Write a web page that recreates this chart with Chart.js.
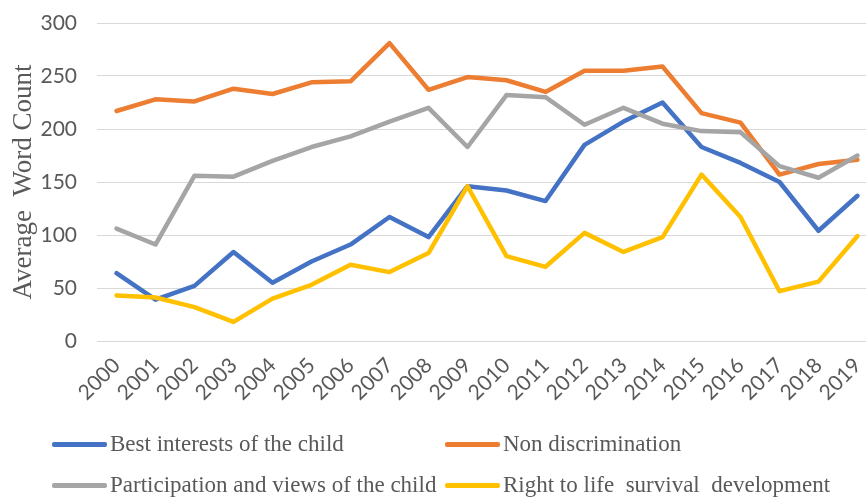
<!DOCTYPE html>
<html>
<head>
<meta charset="utf-8">
<script src="https://cdn.jsdelivr.net/npm/chart.js@4/dist/chart.umd.min.js"></script>
<style>
  html, body { margin: 0; padding: 0; background: #ffffff; overflow: hidden; }
  #wrap { position: relative; width: 880px; height: 497px; }
  #legend { position: absolute; left: 0; top: 0; width: 880px; height: 497px; pointer-events: none; }
  .item { position: absolute; height: 30px; display: flex; align-items: center;
          font-family: "Liberation Serif", "Times New Roman", serif; font-size: 23px;
          color: #595959; white-space: pre; }
  .swatch { width: 55px; height: 5px; border-radius: 2px; margin-right: 3px; }
</style>
</head>
<body>
<div id="wrap">
  <canvas id="chart" width="880" height="497"></canvas>
  <div id="legend"></div>
</div>
<script>
// Years on the category axis
const years = ['2000','2001','2002','2003','2004','2005','2006','2007','2008','2009',
               '2010','2011','2012','2013','2014','2015','2016','2017','2018','2019'];

// Average word count per principle, by year
const bestInterests = [64, 39, 52, 84, 55, 75, 91, 117, 98, 146, 142, 132, 185, 207, 225, 183, 168, 150, 104, 137];
const nonDiscrimination = [217, 228, 226, 238, 233, 244, 245, 281, 237, 249, 246, 235, 255, 255, 259, 215, 206, 157, 167, 171];
const participation = [106, 91, 156, 155, 170, 183, 193, 207, 220, 183, 232, 230, 204, 220, 205, 198, 197, 165, 154, 175];
const rightToLife = [43, 41, 32, 18, 40, 53, 72, 65, 83, 146, 80, 70, 102, 84, 98, 157, 117, 47, 56, 99];

const seriesNames = ['Best interests of the child', 'Non discrimination',
                     'Participation and views of the child', 'Right to life  survival  development'];
const seriesColors = ['#4472C4', '#ED7D31', '#A5A5A5', '#FFC000'];
const yTicks = [0, 50, 100, 150, 200, 250, 300];

const textColor = '#595959';
const gridColor = '#D9D9D9';
const tickFont = { family: 'Lato, "Liberation Sans", sans-serif', size: 21 };

const seriesValues = [bestInterests, nonDiscrimination, participation, rightToLife];
// later series are painted over earlier ones
const datasets = seriesValues.map((vals, i) => ({
  label: seriesNames[i],
  data: vals,
  borderColor: seriesColors[i],
  backgroundColor: seriesColors[i],
  borderWidth: 4.5,
  borderCapStyle: 'round',
  borderJoinStyle: 'round',
  pointRadius: 0,
  pointHoverRadius: 0,
  tension: 0,
  fill: false,
  order: seriesValues.length - 1 - i
}));

const chart = new Chart(document.getElementById('chart'), {
  type: 'line',
  data: { labels: years, datasets },
  options: {
    responsive: false,
    animation: false,
    events: [],
    layout: { padding: { left: 0, right: 3, top: 23, bottom: 96 } },
    plugins: { legend: { display: false }, tooltip: { enabled: false } },
    scales: {
      x: {
        offset: true,
        grid: { display: false, drawTicks: false },
        border: { display: false },
        ticks: { color: textColor, font: tickFont, minRotation: 45, maxRotation: 45,
                 padding: 12, autoSkip: false },
        afterFit(scale) { scale.height = 60; scale.paddingLeft = 0; scale.paddingRight = 0; }
      },
      y: {
        min: yTicks[0],
        max: yTicks[yTicks.length - 1],
        afterBuildTicks(scale) { scale.ticks = yTicks.map(v => ({ value: v })); },
        grid: { color: gridColor, lineWidth: 1, drawTicks: false },
        border: { display: false },
        ticks: { color: textColor, font: tickFont, padding: 20 },
        title: {
          display: true,
          text: 'Average  Word Count',
          color: textColor,
          font: { family: '"Liberation Serif", "Times New Roman", serif', size: 27 },
          padding: { top: 8, bottom: 0 }
        },
        afterFit(scale) { scale.width = 97; scale.paddingTop = 0; scale.paddingBottom = 0; }
      }
    }
  }
});

// Two-column legend built from the chart's datasets
const legendBox = document.getElementById('legend');
const colLeft = [52, 445];
const rowMid = [444, 485];
chart.data.datasets.forEach((ds, i) => {
  const item = document.createElement('div');
  item.className = 'item';
  item.style.left = colLeft[i % 2] + 'px';
  item.style.top = (rowMid[Math.floor(i / 2)] - 15) + 'px';
  const sw = document.createElement('span');
  sw.className = 'swatch';
  sw.style.background = ds.borderColor;
  const label = document.createElement('span');
  label.textContent = ds.label;
  item.appendChild(sw);
  item.appendChild(label);
  legendBox.appendChild(item);
});
</script>
</body>
</html>
